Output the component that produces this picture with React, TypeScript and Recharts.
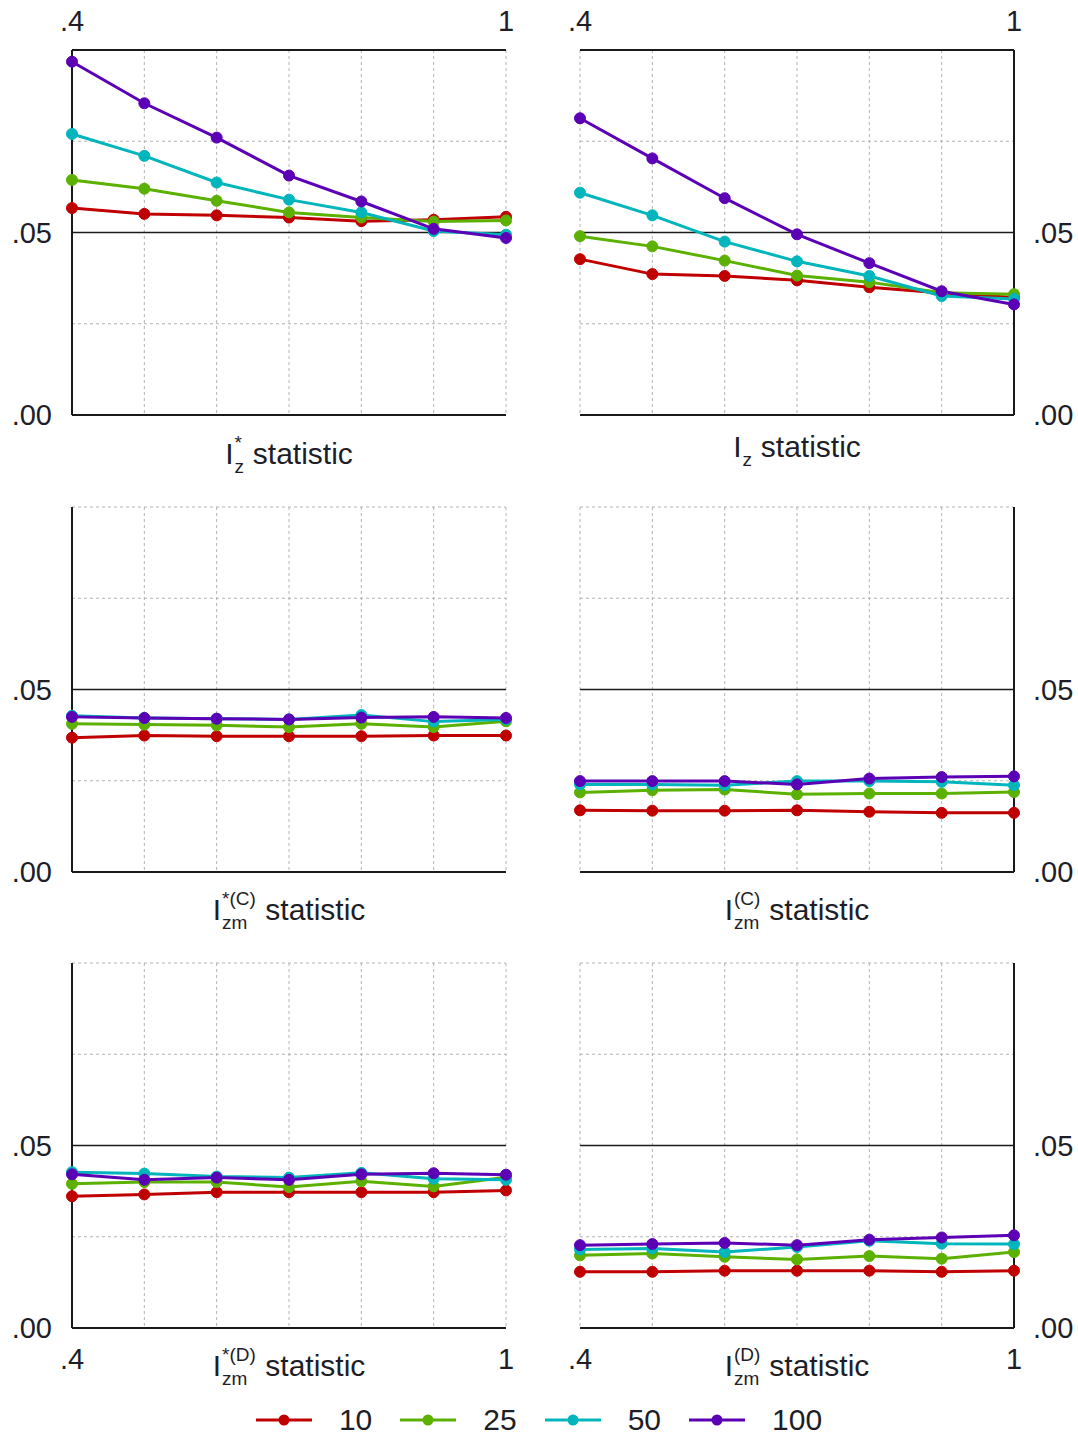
import React from 'react'
import { LineChart, Line, XAxis, YAxis, CartesianGrid, ReferenceLine } from 'recharts'

const FONT = '"Liberation Sans", Arial, sans-serif'

const XS = [0.4, 0.5, 0.6, 0.7, 0.8, 0.9, 1.0]
const SIZES = ['10', '25', '50', '100']
const COLORS = ['#c00000', '#5cb100', '#00b5bb', '#5c00b6']
const Y_TICKS = [0, 0.025, 0.05, 0.075, 0.1]

// I*_z
const izStar10 = [0.0567, 0.0551, 0.0547, 0.0541, 0.0531, 0.0535, 0.0543]
const izStar25 = [0.0644, 0.0620, 0.0587, 0.0555, 0.0541, 0.0530, 0.0533]
const izStar50 = [0.0770, 0.0710, 0.0637, 0.0590, 0.0555, 0.0504, 0.0494]
const izStar100 = [0.0968, 0.0854, 0.0760, 0.0656, 0.0585, 0.0510, 0.0485]

// I_z
const iz10 = [0.0427, 0.0386, 0.0381, 0.0369, 0.0350, 0.0334, 0.0322]
const iz25 = [0.0490, 0.0462, 0.0423, 0.0382, 0.0364, 0.0335, 0.0331]
const iz50 = [0.0609, 0.0547, 0.0475, 0.0421, 0.0381, 0.0326, 0.0318]
const iz100 = [0.0813, 0.0703, 0.0594, 0.0495, 0.0416, 0.0339, 0.0303]

// I*(C)_zm
const izmStarC10 = [0.0368, 0.0374, 0.0372, 0.0372, 0.0372, 0.0374, 0.0374]
const izmStarC25 = [0.0406, 0.0404, 0.0402, 0.0397, 0.0406, 0.0397, 0.0413]
const izmStarC50 = [0.0428, 0.0422, 0.0420, 0.0418, 0.0430, 0.0412, 0.0418]
const izmStarC100 = [0.0425, 0.0422, 0.0420, 0.0418, 0.0423, 0.0425, 0.0422]

// I(C)_zm
const izmC10 = [0.0169, 0.0168, 0.0168, 0.0169, 0.0165, 0.0162, 0.0162]
const izmC25 = [0.0218, 0.0224, 0.0226, 0.0213, 0.0215, 0.0215, 0.0219]
const izmC50 = [0.0240, 0.0240, 0.0238, 0.0249, 0.0249, 0.0247, 0.0238]
const izmC100 = [0.0249, 0.0249, 0.0249, 0.0240, 0.0256, 0.0260, 0.0262]

// I*(D)_zm
const izmStarD10 = [0.0361, 0.0366, 0.0372, 0.0372, 0.0372, 0.0372, 0.0377]
const izmStarD25 = [0.0395, 0.0400, 0.0400, 0.0386, 0.0402, 0.0388, 0.0413]
const izmStarD50 = [0.0427, 0.0423, 0.0415, 0.0412, 0.0425, 0.0409, 0.0406]
const izmStarD100 = [0.0421, 0.0406, 0.0412, 0.0406, 0.0421, 0.0424, 0.0420]

// I(D)_zm
const izmD10 = [0.0154, 0.0154, 0.0157, 0.0157, 0.0157, 0.0154, 0.0157]
const izmD25 = [0.0199, 0.0204, 0.0195, 0.0188, 0.0197, 0.0190, 0.0208]
const izmD50 = [0.0215, 0.0218, 0.0208, 0.0222, 0.0239, 0.0231, 0.0230]
const izmD100 = [0.0227, 0.0230, 0.0233, 0.0227, 0.0242, 0.0248, 0.0254]

const toRows = (series: number[][]) =>
    XS.map((x, i) => {
        const row: any = { x }
        SIZES.forEach((s, k) => { row['n' + s] = series[k][i] })
        return row
    })

const PANELS = [
    { data: toRows([izStar10, izStar25, izStar50, izStar100]), row: 0, col: 0, sup: '*', sub: 'z', w: 11, titleTop: 439 },
    { data: toRows([iz10, iz25, iz50, iz100]), row: 0, col: 1, sup: '', sub: 'z', w: 11, titleTop: 432 },
    { data: toRows([izmStarC10, izmStarC25, izmStarC50, izmStarC100]), row: 1, col: 0, sup: '*(C)', sub: 'zm', w: 36, titleTop: 895 },
    { data: toRows([izmC10, izmC25, izmC50, izmC100]), row: 1, col: 1, sup: '(C)', sub: 'zm', w: 28, titleTop: 895 },
    { data: toRows([izmStarD10, izmStarD25, izmStarD50, izmStarD100]), row: 2, col: 0, sup: '*(D)', sub: 'zm', w: 36, titleTop: 1351 },
    { data: toRows([izmD10, izmD25, izmD50, izmD100]), row: 2, col: 1, sup: '(D)', sub: 'zm', w: 28, titleTop: 1351 },
]

const PLOT_TOP = [50, 507, 963]
const PLOT_H = 365
const tickStyle = { fontSize: 29, fill: '#1e1e28', fontFamily: FONT }

const yFmt = (v: number) => (Math.abs(v) < 1e-9 ? '.00' : Math.abs(v - 0.05) < 1e-9 ? '.05' : '')
const xFmt = (v: number) => (Math.abs(v - 0.4) < 1e-9 ? '.4' : Math.abs(v - 1) < 1e-9 ? '1' : '')

function Panel({ p }: { p: any }) {
    const left = p.col === 0
    const top = PLOT_TOP[p.row] - 50
    const xPos = p.row === 0 ? 'top' : 'bottom'
    const frame = '#1a1a1a'
    return (
        <div style={{ position: 'absolute', left: left ? 0 : 540, top }}>
            <LineChart
                width={left ? 540 : 538}
                height={PLOT_H + 100}
                data={p.data}
                margin={{
                    top: p.row === 0 ? 0 : 50,
                    bottom: p.row === 2 ? 0 : 50,
                    left: left ? 0 : 40,
                    right: left ? 34 : 0,
                }}
            >
                <CartesianGrid stroke="#b4b4b4" strokeDasharray="3 3" />
                <XAxis
                    dataKey="x"
                    type="number"
                    domain={[0.4, 1]}
                    ticks={XS}
                    orientation={xPos as any}
                    hide={p.row === 1}
                    height={50}
                    axisLine={false}
                    tickLine={false}
                    tickSize={0}
                    tickMargin={p.row === 0 ? 19 : 20}
                    tickFormatter={xFmt}
                    tick={tickStyle}
                    interval={0}
                />
                <YAxis
                    type="number"
                    domain={[0, 0.1]}
                    ticks={Y_TICKS}
                    orientation={left ? 'left' : 'right'}
                    width={left ? 72 : 64}
                    axisLine={false}
                    tickLine={false}
                    tickSize={0}
                    tickMargin={left ? 20 : 19}
                    tickFormatter={yFmt}
                    tick={tickStyle}
                    interval={0}
                />
                <ReferenceLine y={0} stroke={frame} strokeWidth={2} />
                {p.row === 0 && <ReferenceLine y={0.1} stroke={frame} strokeWidth={2} />}
                <ReferenceLine x={left ? 0.4 : 1} stroke={frame} strokeWidth={2} />
                <ReferenceLine y={0.05} stroke={frame} strokeWidth={1.5} />
                {SIZES.map((s, k) => (
                    <Line
                        key={s}
                        type="linear"
                        dataKey={'n' + s}
                        stroke={COLORS[k]}
                        strokeWidth={3}
                        dot={{ r: 5.5, fill: COLORS[k], stroke: COLORS[k], strokeWidth: 1 }}
                        isAnimationActive={false}
                    />
                ))}
            </LineChart>
        </div>
    )
}

function Title({ p }: { p: any }) {
    const cx = p.col === 0 ? 289 : 797
    return (
        <div style={{
            position: 'absolute', left: cx - 200, width: 400, top: p.titleTop, textAlign: 'center',
            fontSize: 30, lineHeight: '30px', color: '#1e1e28', fontFamily: FONT, whiteSpace: 'nowrap'
        }}>
            I<span style={{ display: 'inline-block', position: 'relative', width: p.w, height: 0 }}>
                {p.sup && <span style={{ position: 'absolute', left: 1, top: -31, fontSize: 19, lineHeight: '19px' }}>{p.sup}</span>}
                {p.sub && <span style={{ position: 'absolute', left: 1, top: -7, fontSize: 19, lineHeight: '19px' }}>{p.sub}</span>}
            </span> statistic
        </div>
    )
}

export default function App() {
    return (
        <div style={{ position: 'absolute', left: 0, top: 0, width: 1078, height: 1439, background: '#fff', fontFamily: FONT }}>
            {PANELS.map((p, i) => <Panel key={i} p={p} />)}
            {PANELS.map((p, i) => <Title key={'t' + i} p={p} />)}
            <div style={{
                position: 'absolute', left: 0, top: 1403, width: 1078, height: 34, display: 'flex',
                justifyContent: 'center', alignItems: 'center', fontSize: 30, color: '#1e1e28'
            }}>
                {SIZES.map((s, k) => (
                    <React.Fragment key={s}>
                        <svg width={56} height={14} style={{ marginRight: 27 }}>
                            <line x1={0} y1={7} x2={56} y2={7} stroke={COLORS[k]} strokeWidth={3} />
                            <circle cx={28} cy={7} r={5.5} fill={COLORS[k]} />
                        </svg>
                        <span style={{ marginRight: k < SIZES.length - 1 ? 28 : 0 }}>{s}</span>
                    </React.Fragment>
                ))}
            </div>
        </div>
    )
}
